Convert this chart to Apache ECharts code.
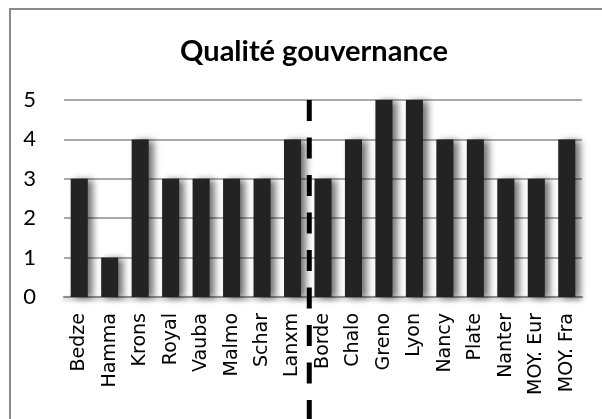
<!DOCTYPE html>
<html>
<head>
<meta charset="utf-8">
<script src="https://cdn.jsdelivr.net/npm/echarts@6/dist/echarts.min.js"></script>
<style>
  html, body { margin: 0; padding: 0; background: #fff; }
  #chart { width: 602px; height: 419px; }
</style>
</head>
<body>
<div id="chart"></div>
<script>
// villes / moyennes
const villes = ['Bedze', 'Hamma', 'Krons', 'Royal', 'Vauba', 'Malmo', 'Schar', 'Lanxm',
  'Borde', 'Chalo', 'Greno', 'Lyon', 'Nancy', 'Plate', 'Nanter', 'MOY. Eur', 'MOY. Fra']
const notes = [3, 1, 4, 3, 3, 3, 3, 4, 3, 4, 5, 5, 4, 4, 3, 3, 4]
const yTicks = [0, 1, 2, 3, 4, 5]
// séparation entre les deux groupes (après Lanxm)
const separation = 8

const chart = echarts.init(document.getElementById('chart'), null, { renderer: 'canvas' })

const option = {
  animation: false,
  title: {
    text: 'Qualité gouvernance',
    left: 309,
    textAlign: 'center',
    top: 32,
    textStyle: {
      fontFamily: 'Lato',
      fontWeight: 'bold',
      fontSize: 29,
      color: '#000'
    }
  },
  grid: {
    left: 64,
    right: 20,
    top: 100,
    bottom: 122
  },
  xAxis: [
    {
      type: 'category',
      data: villes,
      axisTick: { show: false },
      axisLine: {
        lineStyle: {
          color: '#8c8c8c',
          width: 2,
          shadowColor: 'rgba(0,0,0,0.35)',
          shadowBlur: 4,
          shadowOffsetY: 2
        }
      },
      axisLabel: {
        rotate: 90,
        margin: 16,
        interval: 0,
        color: '#000',
        fontFamily: 'DejaVu Sans',
        fontSize: 19
      }
    },
    {
      // axe caché pour placer la séparation entre catégories
      type: 'value',
      min: 0,
      max: villes.length,
      show: false
    }
  ],
  yAxis: {
    type: 'value',
    min: yTicks[0],
    max: yTicks[yTicks.length - 1],
    interval: 1,
    axisLine: { show: false },
    axisTick: { show: false },
    axisLabel: {
      margin: 28,
      color: '#000',
      fontFamily: 'Lato',
      fontSize: 22
    },
    splitLine: {
      lineStyle: { color: '#8c8c8c', width: 1.5 }
    }
  },
  series: [
    {
      type: 'bar',
      data: notes,
      barCategoryGap: '44%',
      itemStyle: {
        color: '#232323',
        shadowColor: 'rgba(0,0,0,0.55)',
        shadowBlur: 7,
        shadowOffsetX: 5,
        shadowOffsetY: 1
      }
    }
  ]
}

chart.setOption(option)

// ligne pointillée verticale, positionnée via les échelles
const xSep = chart.convertToPixel({ xAxisIndex: 1 }, separation)
const yTop = chart.convertToPixel({ yAxisIndex: 0 }, yTicks[yTicks.length - 1])

chart.setOption({
  graphic: [
    {
      type: 'rect',
      shape: { x: 10, y: 9, width: 700, height: 700 },
      style: { fill: null, stroke: '#8a8a8a', lineWidth: 2 },
      z: -1
    },
    {
      type: 'line',
      shape: { x1: xSep + 1.5, y1: yTop, x2: xSep + 1.5, y2: 419 },
      style: { stroke: '#000', lineWidth: 5, lineDash: [21, 16.5] },
      z: 100
    }
  ]
})
</script>
</body>
</html>
